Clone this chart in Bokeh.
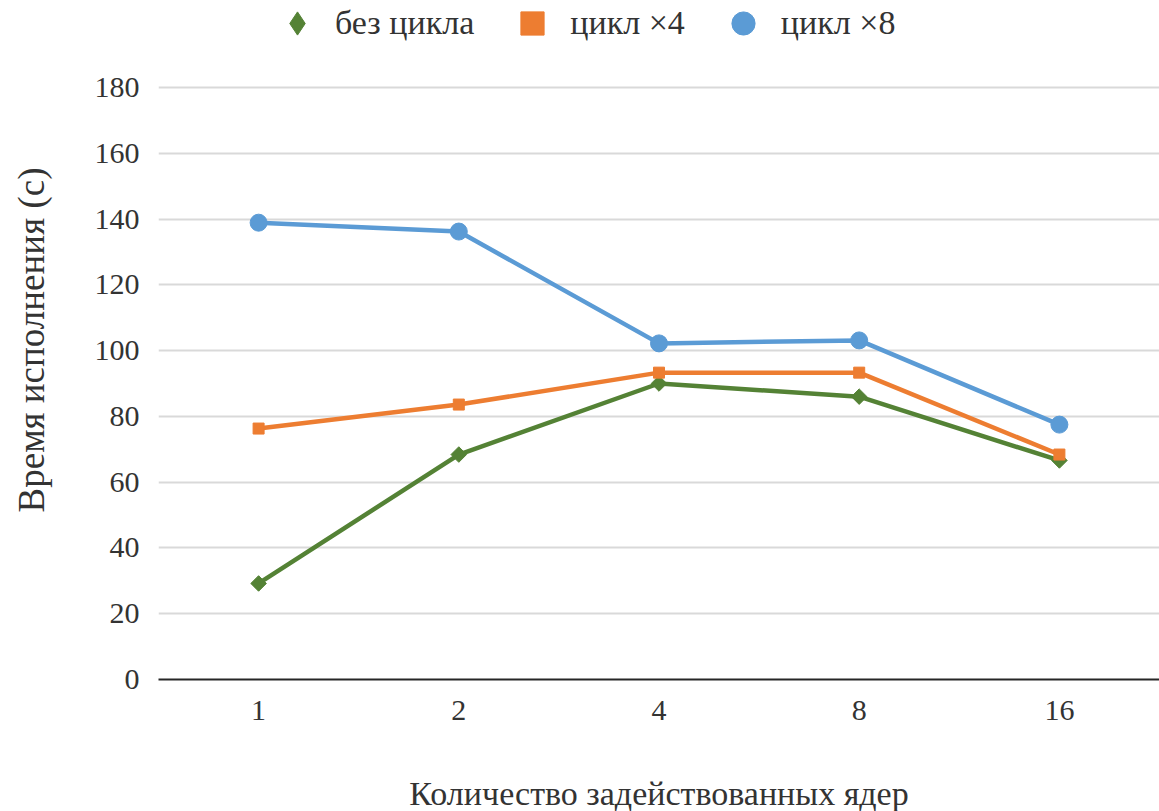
import math
from bokeh.plotting import figure
from bokeh.models import Legend, LegendItem, FactorRange, Range1d, ColumnDataSource
from bokeh.embed import file_html
from bokeh.resources import INLINE

cores = ["1", "2", "4", "8", "16"]
no_loop = [29.2, 68.4, 90.0, 86.0, 66.6]
loop_x4 = [76.3, 83.6, 93.3, 93.3, 68.4]
loop_x8 = [138.9, 136.2, 102.2, 103.1, 77.5]
y_ticks = list(range(0, 181, 20))

FONT = "'Liberation Serif', 'Times New Roman', serif"
TXT = "#333333"

# frame spans full height above the axis; grid stops at 180, headroom holds the legend
p = figure(frame_width=1001, frame_height=679,
           x_range=FactorRange(*cores, range_padding=0),
           y_range=Range1d(0, 180 * 679 / 592), output_backend="svg", toolbar_location=None,
           min_border_left=158, min_border_right=0, min_border_top=0, min_border_bottom=132)
p.outline_line_color = None
p.background_fill_color = "white"

src = ColumnDataSource(dict(x=cores, a=no_loop, b=loop_x4, c=loop_x8))

green = "#548235"
orange = "#ed7d31"
blue = "#5b9bd5"

p.line("x", "a", source=src, line_color=green, line_width=4.5)
p.scatter("x", "a", source=src, marker="square", angle=math.pi / 4, size=11, color=green)
p.line("x", "b", source=src, line_color=orange, line_width=4.5)
r2 = p.scatter("x", "b", source=src, marker="square", size=11, color=orange)
p.line("x", "c", source=src, line_color=blue, line_width=4.5)
r3 = p.scatter("x", "c", source=src, marker="circle", size=17, color=blue)
# legend-only renderer (not drawn) so the legend shows a diamond
r1 = p.scatter("x", "a", source=src, marker="diamond", size=11, color=green, visible=False)

p.yaxis.ticker = y_ticks
p.ygrid.ticker = y_ticks
p.yaxis.axis_line_color = None
p.yaxis.major_tick_line_color = None
p.yaxis.minor_tick_line_color = None
p.yaxis.major_label_standoff = 13
p.yaxis.axis_label = "Время исполнения (с)"
p.yaxis.axis_label_standoff = 40

p.xaxis.axis_line_color = "#262626"
p.xaxis.axis_line_width = 2
p.xaxis.major_tick_line_color = None
p.xaxis.minor_tick_line_color = None
p.xaxis.major_label_standoff = 15
p.xaxis.axis_label = "Количество задействованных ядер"
p.xaxis.axis_label_standoff = 52

for ax in (p.xaxis[0], p.yaxis[0]):
    ax.major_label_text_font = FONT
    ax.major_label_text_font_size = "30px"
    ax.major_label_text_color = TXT
    ax.axis_label_text_font = FONT
    ax.axis_label_text_font_size = "34px"
    ax.axis_label_text_font_style = "normal"
    ax.axis_label_text_color = TXT
p.yaxis.axis_label_text_font_size = "37px"

p.xgrid.grid_line_color = None
p.ygrid.grid_line_color = "#d9d9d9"
p.ygrid.grid_line_width = 2

legend = Legend(items=[LegendItem(label="без цикла", renderers=[r1]),
                       LegendItem(label="цикл ×4", renderers=[r2]),
                       LegendItem(label="цикл ×8", renderers=[r3])],
                orientation="horizontal", location=(109, 627),
                glyph_width=60, glyph_height=58, label_standoff=8, spacing=28,
                padding=0, margin=0, border_line_color=None, background_fill_alpha=0,
                inactive_fill_alpha=0,
                label_text_font=FONT, label_text_font_size="34px", label_text_color=TXT)
p.add_layout(legend, "center")

open("out.html", "w").write(file_html(p, INLINE))
